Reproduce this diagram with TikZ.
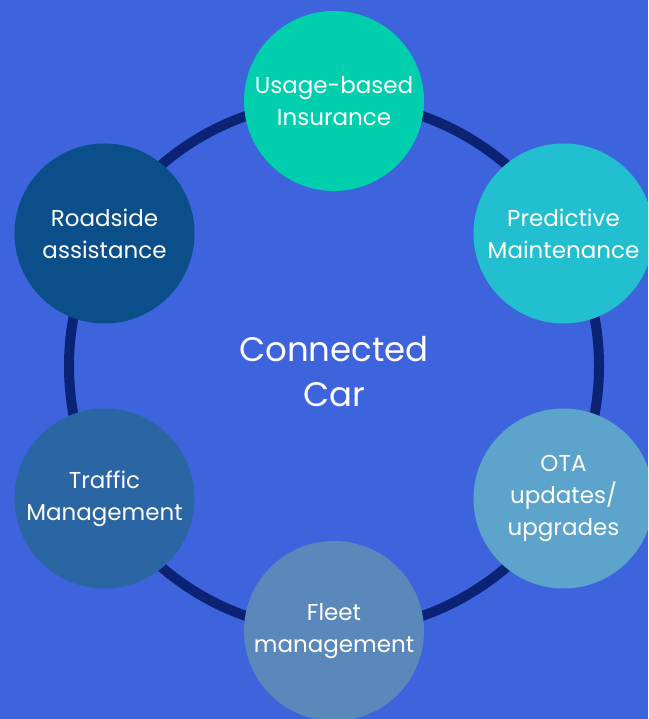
\documentclass[tikz,border=0pt]{standalone}
\usepackage{fontspec}
\setmainfont{Poppins}
\usepackage{xcolor}

\begin{document}
\begin{tikzpicture}[x=1pt,y=1pt,mynode/.style={circle,minimum size=180,inner sep=0,text=white,align=center,font=\fontsize{23}{32}\selectfont}]
\definecolor{backblue}{HTML}{3D64DC}
\definecolor{ringnavy}{HTML}{0B2275}
\definecolor{mintgreen}{HTML}{00CFAE}
\definecolor{cyanish}{HTML}{21BFCF}
\definecolor{skyblue}{HTML}{5CA4CC}
\definecolor{steel}{HTML}{5A88BA}
\definecolor{midblue}{HTML}{2A66A3}
\definecolor{deepblue}{HTML}{0A4F8A}
\useasboundingbox (0,0) rectangle (648,719);
\clip (0,0) rectangle (648,719);
\fill[backblue] (0,0) rectangle (648,719);
\coordinate (hub) at (334,353);
\draw[ringnavy,line width=10] (hub) circle (265);
\node [text=white,align=center,font=\fontsize{34}{45}\selectfont] (car) at (334,347) {Connected\\Car};
  \foreach \crlr/\ang/\nm/\txt in {mintgreen/90/insurance/{Usage-based\\Insurance},
    cyanish/30/maintenance/{Predictive\\Maintenance},
    skyblue/-30/ota/{OTA\\updates/\\upgrades},
    steel/-90/fleet/{Fleet\\management},
    midblue/210/traffic/{Traffic\\Management},
    deepblue/150/roadside/{Roadside\\assistance}}
  {  \node [mynode,fill=\crlr] (\nm) at ([shift={(\ang:265)}]hub) {\txt};}
\end{tikzpicture}
\end{document}
